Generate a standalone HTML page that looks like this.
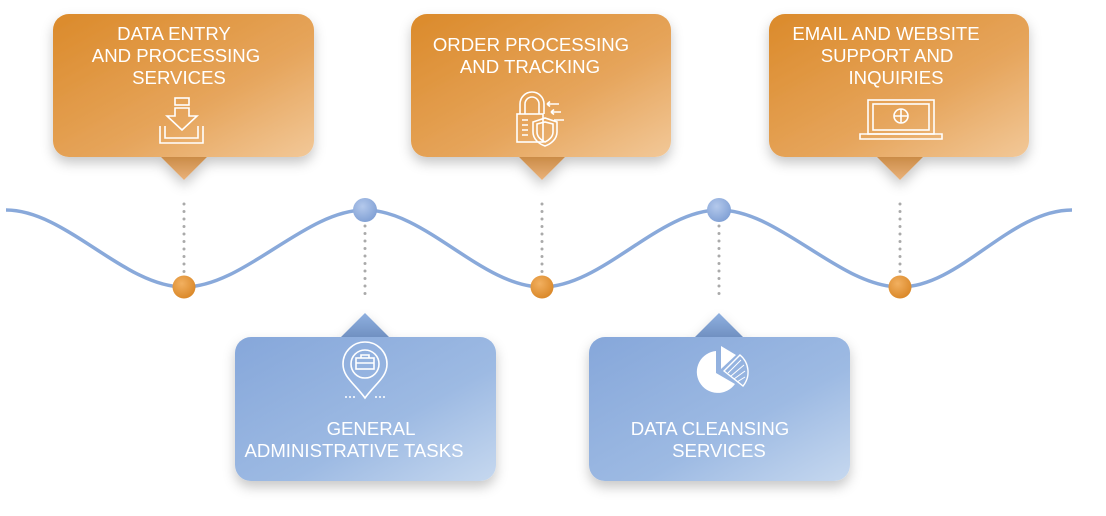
<!DOCTYPE html>
<html><head><meta charset="utf-8"><style>
html,body{margin:0;padding:0;background:#fff;}
svg{display:block;font-family:"Liberation Sans",sans-serif;}
</style></head><body>
<svg width="1106" height="516" viewBox="0 0 1106 516" xmlns="http://www.w3.org/2000/svg">
<defs>
<linearGradient id="og" x1="0" y1="0" x2="1" y2="1">
<stop offset="0" stop-color="#db8a2a"/><stop offset="0.6" stop-color="#e6a55c"/><stop offset="1" stop-color="#f2c898"/>
</linearGradient>
<linearGradient id="bg" x1="0" y1="0" x2="1" y2="1">
<stop offset="0" stop-color="#86a7da"/><stop offset="0.6" stop-color="#9dbae3"/><stop offset="1" stop-color="#c6d8ef"/>
</linearGradient>
<linearGradient id="ot" x1="0" y1="0" x2="0" y2="1"><stop offset="0" stop-color="#c98a45"/><stop offset="1" stop-color="#eab27a"/></linearGradient>
<linearGradient id="bt" x1="0" y1="0" x2="0" y2="1"><stop offset="0" stop-color="#8fb0e0"/><stop offset="1" stop-color="#6f8fc0"/></linearGradient>
<radialGradient id="od" cx="0.4" cy="0.35" r="0.7"><stop offset="0" stop-color="#f2b060"/><stop offset="1" stop-color="#d98626"/></radialGradient>
<radialGradient id="bd" cx="0.4" cy="0.35" r="0.7"><stop offset="0" stop-color="#b4c9ec"/><stop offset="1" stop-color="#7f9fd4"/></radialGradient>
<filter id="sh" x="-20%" y="-20%" width="140%" height="150%"><feDropShadow dx="0" dy="6" stdDeviation="6" flood-color="#000" flood-opacity="0.22"/></filter>
</defs>

<path d="M6,210 C66,210 124,287 184,287 C244,287 305,210 365,210 C425,210 482,287 542,287 C602,287 659,210 719,210 C779,210 840,287 900,287 C960,287 1010,210 1072,210" fill="none" stroke="#89a9da" stroke-width="3.5"/>

<g stroke="#aaa" stroke-width="3" stroke-linecap="round" stroke-dasharray="0 7.5" fill="none">
<line x1="184" y1="204" x2="184" y2="272"/>
<line x1="542" y1="204" x2="542" y2="272"/>
<line x1="900" y1="204" x2="900" y2="272"/>
<line x1="365" y1="226" x2="365" y2="294"/>
<line x1="719" y1="226" x2="719" y2="294"/>
</g>

<circle cx="184" cy="287" r="11.5" fill="url(#od)"/>
<circle cx="542" cy="287" r="11.5" fill="url(#od)"/>
<circle cx="900" cy="287" r="11.5" fill="url(#od)"/>
<circle cx="365" cy="210" r="12" fill="url(#bd)"/>
<circle cx="719" cy="210" r="12" fill="url(#bd)"/>

<g filter="url(#sh)">
<polygon points="160,156 208,156 184,180" fill="url(#ot)"/>
<rect x="53" y="14" width="261" height="143" rx="16" fill="url(#og)"/>
<polygon points="518,156 566,156 542,180" fill="url(#ot)"/>
<rect x="411" y="14" width="260" height="143" rx="16" fill="url(#og)"/>
<polygon points="876,156 924,156 900,180" fill="url(#ot)"/>
<rect x="769" y="14" width="260" height="143" rx="16" fill="url(#og)"/>
</g>

<g filter="url(#sh)">
<polygon points="340,338 390,338 365,313" fill="url(#bt)"/>
<rect x="235" y="337" width="261" height="144" rx="16" fill="url(#bg)"/>
<polygon points="694,338 744,338 719,313" fill="url(#bt)"/>
<rect x="589" y="337" width="261" height="144" rx="16" fill="url(#bg)"/>
</g>

<g fill="#fff" font-size="18.6" text-anchor="middle">
<text x="174" y="40">DATA ENTRY</text>
<text x="176" y="62">AND PROCESSING</text>
<text x="179" y="84">SERVICES</text>
<text x="531" y="51">ORDER PROCESSING</text>
<text x="530" y="73">AND TRACKING</text>
<text x="886" y="40">EMAIL AND WEBSITE</text>
<text x="887" y="62">SUPPORT AND</text>
<text x="896" y="84">INQUIRIES</text>
<text x="371" y="435">GENERAL</text>
<text x="354" y="457">ADMINISTRATIVE TASKS</text>
<text x="710" y="435">DATA CLEANSING</text>
<text x="719" y="457">SERVICES</text>
</g>

<g fill="none" stroke="#fff" stroke-width="1.6">
<!-- download -->
<rect x="175" y="98" width="14" height="7"/>
<path d="M175,108 h14 v8 h8 l-15,14 l-15,-14 h8 z"/>
<path d="M160,126 v17 h43 v-17 M165,126 v12 h33 v-12"/>
<!-- lock/shield -->
<path d="M520,114 v-10 a12,12 0 0 1 24,0 v10 M525,114 v-10 a7,7 0 0 1 14,0 v10"/>
<rect x="517" y="114" width="26" height="28"/>
<path d="M522,120 h6 M522,125 h6 M522,130 h6 M522,135 h6"/>
<path d="M533,122 l12,-4 l12,4 v10 c0,7 -6,12 -12,14 c-6,-2 -12,-7 -12,-14 z"/>
<path d="M537,124 l8,-2 l8,2 v8 c0,5 -4,8 -8,10 c-4,-2 -8,-5 -8,-10 z"/>
<path d="M547,104 h12 M551,112 h10 M554,120 h10 M547,104 l3,-2.5 M547,104 l3,2.5 M551,112 l3,-2.5 M551,112 l3,2.5"/>
<!-- laptop -->
<rect x="868" y="100" width="66" height="34"/>
<rect x="873" y="104" width="56" height="26"/>
<path d="M860,134 h82 v5 h-82 z"/>
<circle cx="901" cy="116" r="7"/>
<path d="M894,116 h14 M901,109 v14"/>
<!-- pin briefcase -->
<path d="M365,398 c-11,-15 -22,-21 -22,-34 a22,22 0 0 1 44,0 c0,13 -11,19 -22,34 z"/>
<circle cx="365" cy="364" r="14"/>
<rect x="356" y="358" width="18" height="11"/>
<path d="M361,358 v-3 h8 v3 M356,363 h18"/>
</g>
<g fill="#fff">
<circle cx="346" cy="397" r="1"/><circle cx="350" cy="397" r="1"/><circle cx="354" cy="397" r="1"/>
<circle cx="376" cy="397" r="1"/><circle cx="380" cy="397" r="1"/><circle cx="384" cy="397" r="1"/>
<path d="M716,351 A21,21 0 1 0 735,384 L716,373 Z"/>
<path d="M721,346 L721,369 L736,355 Z"/>
</g>
<path d="M724,371 L740,355 A22,22 0 0 1 743,386 Z" fill="none" stroke="#fff" stroke-width="1.4"/>
<g stroke="#fff" stroke-width="1"><path d="M728,373 L741,360 M731,376 L744,365 M734,379 L745,371 M737,382 L745,377"/></g>
</svg>
</body></html>
